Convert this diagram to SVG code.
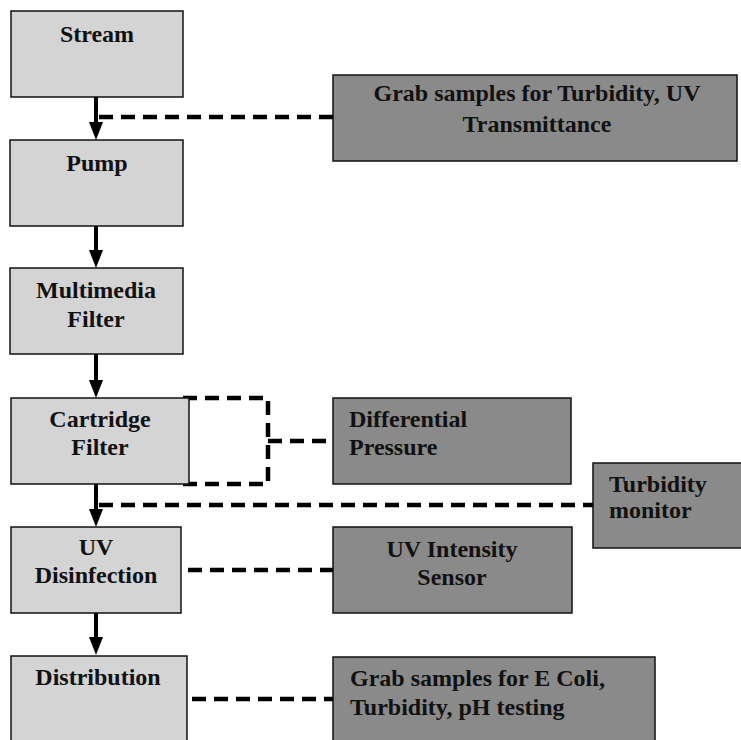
<svg xmlns="http://www.w3.org/2000/svg" width="741" height="740" viewBox="0 0 741 740">
<style>
.light{fill:#d4d4d4;stroke:#111;stroke-width:1.5}
.dark{fill:#8a8a8a;stroke:#111;stroke-width:1.5}
text{font-family:"Liberation Serif","Times New Roman",serif;font-weight:bold;font-size:24px;fill:#111}
.c{text-anchor:middle}
.flow{stroke:#000;stroke-width:4;fill:none}
.dash{stroke:#000;stroke-width:4.5;fill:none;stroke-dasharray:14 8}
</style>
<defs>
<polygon id="head" points="-7,-18 7,-18 0,0" fill="#000"/>
</defs>
<rect width="741" height="740" fill="#fff"/>

<g id="connectors">
<line class="flow" x1="96" y1="97" x2="96" y2="124"/><use href="#head" x="96" y="140"/>
<line class="flow" x1="96" y1="226" x2="96" y2="252"/><use href="#head" x="96" y="268"/>
<line class="flow" x1="96" y1="354" x2="96" y2="382"/><use href="#head" x="96" y="398"/>
<line class="flow" x1="96" y1="484" x2="96" y2="511"/><use href="#head" x="96" y="527"/>
<line class="flow" x1="96" y1="613" x2="96" y2="639"/><use href="#head" x="96" y="655"/>
<line class="dash" x1="99" y1="117" x2="333" y2="117"/>
<path class="dash" d="M183,398 H268 V484 H183"/>
<line class="dash" x1="268" y1="441" x2="333" y2="441"/>
<line class="dash" x1="99" y1="505" x2="593" y2="505"/>
<line class="dash" x1="188" y1="570" x2="333" y2="570"/>
<line class="dash" x1="192" y1="699" x2="333" y2="699"/>
</g>

<g id="stream"><rect class="light" x="11" y="11" width="172" height="86"/><text class="c" x="97" y="42">Stream</text></g>
<g id="pump"><rect class="light" x="10" y="140" width="173" height="86"/><text class="c" x="97" y="171">Pump</text></g>
<g id="multimedia"><rect class="light" x="10" y="268" width="173" height="86"/><text class="c" x="96" y="298">Multimedia</text><text class="c" x="96" y="327">Filter</text></g>
<g id="cartridge"><rect class="light" x="11" y="398" width="178" height="86"/><text class="c" x="100" y="427">Cartridge</text><text class="c" x="100" y="455">Filter</text></g>
<g id="uv"><rect class="light" x="11" y="527" width="170" height="86"/><text class="c" x="96" y="555">UV</text><text class="c" x="96" y="583">Disinfection</text></g>
<g id="distribution"><rect class="light" x="11" y="656" width="176" height="90"/><text class="c" x="98" y="685">Distribution</text></g>

<g id="grab-top"><rect class="dark" x="333" y="75" width="404" height="86"/><text class="c" x="537" y="101">Grab samples for Turbidity, UV</text><text class="c" x="537" y="132">Transmittance</text></g>
<g id="diffpressure"><rect class="dark" x="333" y="398" width="238" height="86"/><text x="349" y="427">Differential</text><text x="349" y="455">Pressure</text></g>
<g id="turbidity"><rect class="dark" x="593" y="463" width="152" height="85"/><text x="609" y="492">Turbidity</text><text x="609" y="518">monitor</text></g>
<g id="uvsensor"><rect class="dark" x="333" y="527" width="239" height="86"/><text class="c" x="452" y="557">UV Intensity</text><text class="c" x="452" y="585">Sensor</text></g>
<g id="grab-bottom"><rect class="dark" x="333" y="657" width="322" height="90"/><text x="350" y="686">Grab samples for E Coli,</text><text x="350" y="715">Turbidity, pH testing</text></g>
</svg>
